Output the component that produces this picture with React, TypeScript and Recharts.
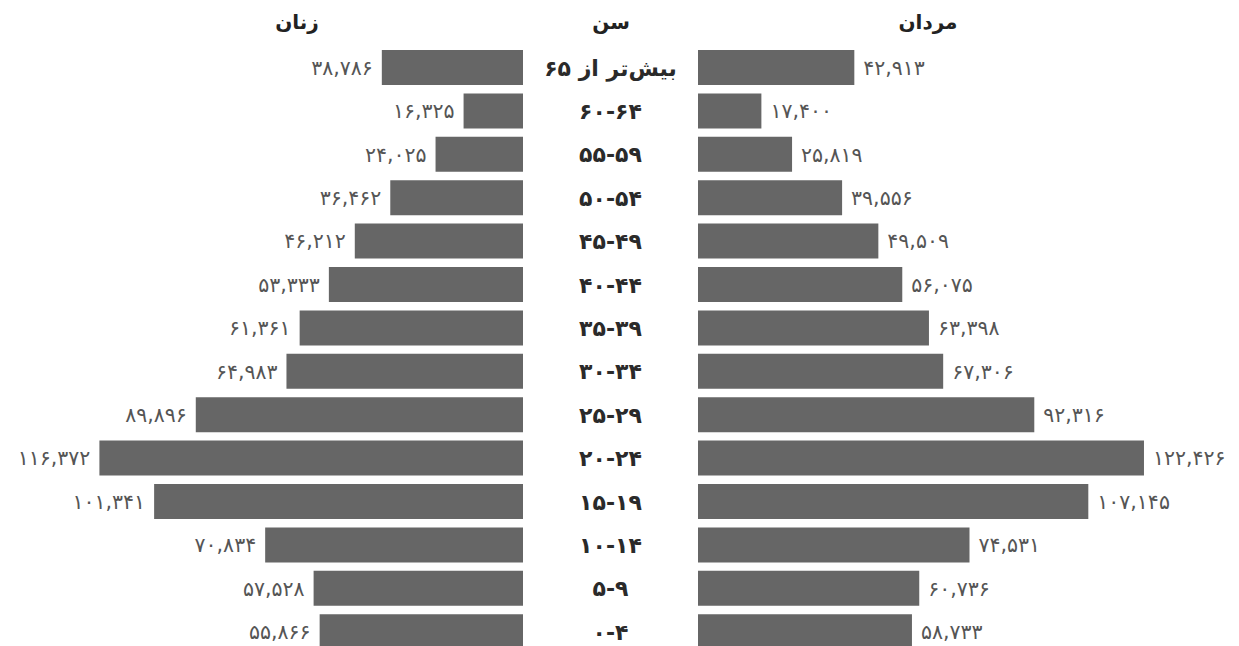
import React from 'react';
import { BarChart, Bar, XAxis, YAxis, LabelList } from 'recharts';

const ageGroups = [
  'بیش\u200cتر از ۶۵', '۶۰-۶۴', '۵۵-۵۹', '۵۰-۵۴', '۴۵-۴۹', '۴۰-۴۴', '۳۵-۳۹',
  '۳۰-۳۴', '۲۵-۲۹', '۲۰-۲۴', '۱۵-۱۹', '۱۰-۱۴', '۵-۹', '۰-۴',
];
const women = [38786, 16325, 24025, 36462, 46212, 53333, 61361, 64983, 89896, 116372, 101341, 70834, 57528, 55866];
const men = [42913, 17400, 25819, 39556, 49509, 56075, 63398, 67306, 92316, 122426, 107145, 74531, 60736, 58733];
const headerWomen = 'زنان';
const headerAge = 'سن';
const headerMen = 'مردان';

const data = ageGroups.map((age, i) => ({ age, women: women[i], men: men[i] }));

const FONT = '"DejaVu Sans", "Noto Sans", sans-serif';
const BAR = '#666666';
const DOMAIN: [number, number] = [0, 140000];

const toFa = (n: number) =>
  Number(n).toLocaleString('en-US').replace(/\d/g, (d) => '۰۱۲۳۴۵۶۷۸۹'[+d]);

const WomenLabel = (props: any) => {
  const { x, y, width, height, value } = props;
  const left = Math.min(x, x + width);
  return (
    <text x={left - 9} y={y + height / 2} dy="0.36em" textAnchor="end" fill="#555" fontSize={20.5} fontFamily={FONT}>
      {toFa(value)}
    </text>
  );
};

const MenLabel = (props: any) => {
  const { x, y, width, height, value } = props;
  const right = Math.max(x, x + width);
  return (
    <text x={right + 9} y={y + height / 2} dy="0.36em" textAnchor="start" fill="#555" fontSize={20.5} fontFamily={FONT}>
      {toFa(value)}
    </text>
  );
};

const AgeTick = (props: any) => {
  const { x, y, payload } = props;
  return (
    <text x={x - 87.5} y={y} dy="0.36em" textAnchor="middle" fill="#2a2a2a" fontSize={22} fontWeight="bold" fontFamily={FONT}>
      {payload.value}
    </text>
  );
};

const CH = 660;
const MARGIN_TOP = 46;
const MARGIN_BOTTOM = 6.4;

export default function App() {
  const headerStyle: React.CSSProperties = {
    position: 'absolute',
    top: 8,
    width: 200,
    textAlign: 'center',
    fontFamily: FONT,
    fontWeight: 'bold',
    fontSize: 20,
    color: '#222',
    direction: 'rtl',
    lineHeight: '28px',
  };
  return (
    <div style={{ position: 'absolute', left: 0, top: 0, width: 1239, height: 646, overflow: 'hidden', background: '#fff' }}>
      <div style={{ ...headerStyle, left: 297 - 100 }}>{headerWomen}</div>
      <div style={{ ...headerStyle, left: 611 - 100 }}>{headerAge}</div>
      <div style={{ ...headerStyle, left: 928 - 100 }}>{headerMen}</div>

      <div style={{ position: 'absolute', left: 0, top: 0 }}>
        <BarChart
          width={523}
          height={CH}
          data={data}
          layout="vertical"
          margin={{ top: MARGIN_TOP, bottom: MARGIN_BOTTOM, left: 13.4, right: 0 }}
        >
          <XAxis type="number" domain={DOMAIN} reversed hide />
          <YAxis type="category" dataKey="age" hide />
          <Bar dataKey="women" fill={BAR} barSize={35} isAnimationActive={false}>
            <LabelList dataKey="women" content={<WomenLabel />} />
          </Bar>
        </BarChart>
      </div>

      <div style={{ position: 'absolute', left: 523, top: 0 }}>
        <BarChart
          width={716}
          height={CH}
          data={data}
          layout="vertical"
          margin={{ top: MARGIN_TOP, bottom: MARGIN_BOTTOM, left: 0, right: 31 }}
        >
          <XAxis type="number" domain={DOMAIN} hide />
          <YAxis
            type="category"
            dataKey="age"
            width={175}
            axisLine={false}
            tickLine={false}
            tickSize={0}
            tickMargin={0}
            interval={0}
            tick={<AgeTick />}
          />
          <Bar dataKey="men" fill={BAR} barSize={35} isAnimationActive={false}>
            <LabelList dataKey="men" content={<MenLabel />} />
          </Bar>
        </BarChart>
      </div>
    </div>
  );
}
